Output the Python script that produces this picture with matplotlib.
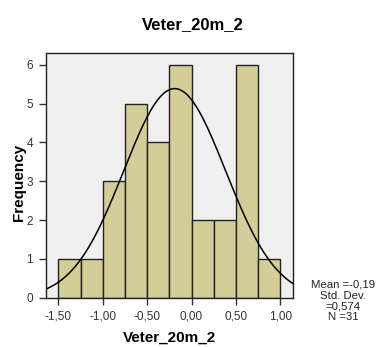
import numpy as np
import matplotlib.pyplot as plt

plt.rcParams['font.family'] = ['Liberation Sans', 'DejaVu Sans']

# histogram bins (width 0,25) and counts
bin_left = [-1.50, -1.25, -1.00, -0.75, -0.50, -0.25, 0.00, 0.25, 0.50, 0.75]
counts = [1, 1, 3, 5, 4, 6, 2, 2, 6, 1]
bin_width = 0.25
mean = -0.19
std = 0.574
n = 31

xticks = [-1.5, -1.0, -0.5, 0.0, 0.5, 1.0]
xtick_labels = ['-1,50', '-1,00', '-0,50', '0,00', '0,50', '1,00']
yticks = [0, 1, 2, 3, 4, 5, 6]

fig = plt.figure(figsize=(3.8, 3.47), dpi=100)
ax = fig.add_axes([0.120, 0.142, 0.651, 0.706])
ax.set_facecolor('#f0f0f0')

ax.bar(bin_left, counts, width=bin_width, align='edge',
       color='#d3ce98', edgecolor='#222222', linewidth=1.0)

# normal curve scaled to the histogram
xs = np.linspace(-1.643, 1.142, 300)
ys = n * bin_width * np.exp(-0.5 * ((xs - mean) / std) ** 2) / (std * np.sqrt(2 * np.pi))
ax.plot(xs, ys, color='black', linewidth=1.1)

ax.set_xlim(-1.643, 1.142)
ax.set_ylim(0, 6.31)
ax.set_xticks(xticks)
ax.set_xticklabels(xtick_labels)
ax.set_yticks(yticks)
ax.tick_params(labelsize=8.5, colors='#333333', length=5, width=1, pad=4)
for s in ax.spines.values():
    s.set_color('#222222')
    s.set_linewidth(1)

ax.set_xlabel('Veter_20m_2', fontsize=11, fontweight='bold', va='center')
ax.xaxis.set_label_coords(0.50, -0.165)
ax.set_ylabel('Frequency', fontsize=11, fontweight='bold', va='center')
ax.yaxis.set_label_coords(-0.108, 0.47)
fig.text(0.508, 0.928, 'Veter_20m_2', fontsize=12, fontweight='bold',
         ha='center', va='center')

fig.text(0.903, 0.132, 'Mean =-0,19\nStd. Dev.\n=0,574\nN =31', fontsize=8.2,
         ha='center', va='center', linespacing=1.1, color='#222222')

fig.savefig('out.png', dpi=100)
